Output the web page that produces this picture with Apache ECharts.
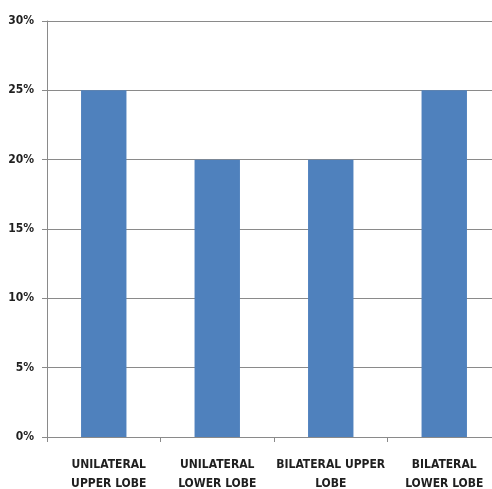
<!DOCTYPE html>
<html>
<head>
<meta charset="utf-8">
<style>
  html, body { margin: 0; padding: 0; background: #fff; }
  #chart { width: 492px; height: 489px; }
</style>
<script src="https://cdn.jsdelivr.net/npm/echarts@6/dist/echarts.min.js"></script>
</head>
<body>
<div id="chart"></div>
<script>
// Lobe involvement categories and their share of cases (%)
const categories = [
  'UNILATERAL\nUPPER LOBE',
  'UNILATERAL\nLOWER LOBE',
  'BILATERAL UPPER\nLOBE',
  'BILATERAL\nLOWER LOBE'
];
const shares = [25, 20, 20, 25];

// Value axis range and step
const yMin = 0;
const yMax = 30;
const yStep = 5;

const chart = echarts.init(document.getElementById('chart'), null, { renderer: 'canvas' });

const labelFont = {
  fontFamily: '"Liberation Sans Narrow", "DejaVu Sans Condensed", "Liberation Sans", sans-serif',
  fontSize: 12,
  fontWeight: 'bold',
  color: '#1f1f1f'
};

// first category label sits a little right of its slot
const categoryItems = categories.map((name, i) =>
  i === 0 ? { value: name, textStyle: { padding: [0, 0, 0, 10] } } : name
);

chart.setOption({
  animation: false,
  backgroundColor: '#ffffff',
  grid: {
    left: 47,
    top: 21,
    bottom: 52,
    right: -9,
    containLabel: false,
    outerBoundsMode: 'none'
  },
  xAxis: {
    type: 'category',
    data: categoryItems,
    boundaryGap: true,
    axisLine: { lineStyle: { color: '#8a8a8a', width: 1 } },
    axisTick: { show: true, length: 5, alignWithLabel: false, lineStyle: { color: '#8a8a8a' } },
    axisLabel: Object.assign({ margin: 18, lineHeight: 19, interval: 0 }, labelFont),
    splitLine: { show: false }
  },
  yAxis: {
    type: 'value',
    min: yMin,
    max: yMax,
    interval: yStep,
    axisLine: { show: true, lineStyle: { color: '#8a8a8a', width: 1 } },
    axisTick: { show: true, length: 5, lineStyle: { color: '#8a8a8a' } },
    axisLabel: Object.assign({ margin: 13, formatter: '{value}%' }, labelFont),
    splitLine: { show: true, lineStyle: { color: '#8a8a8a', width: 1 } }
  },
  series: [{
    type: 'bar',
    data: shares,
    barCategoryGap: '60%',
    itemStyle: { color: '#4f81bd' }
  }]
});
</script>
</body>
</html>
